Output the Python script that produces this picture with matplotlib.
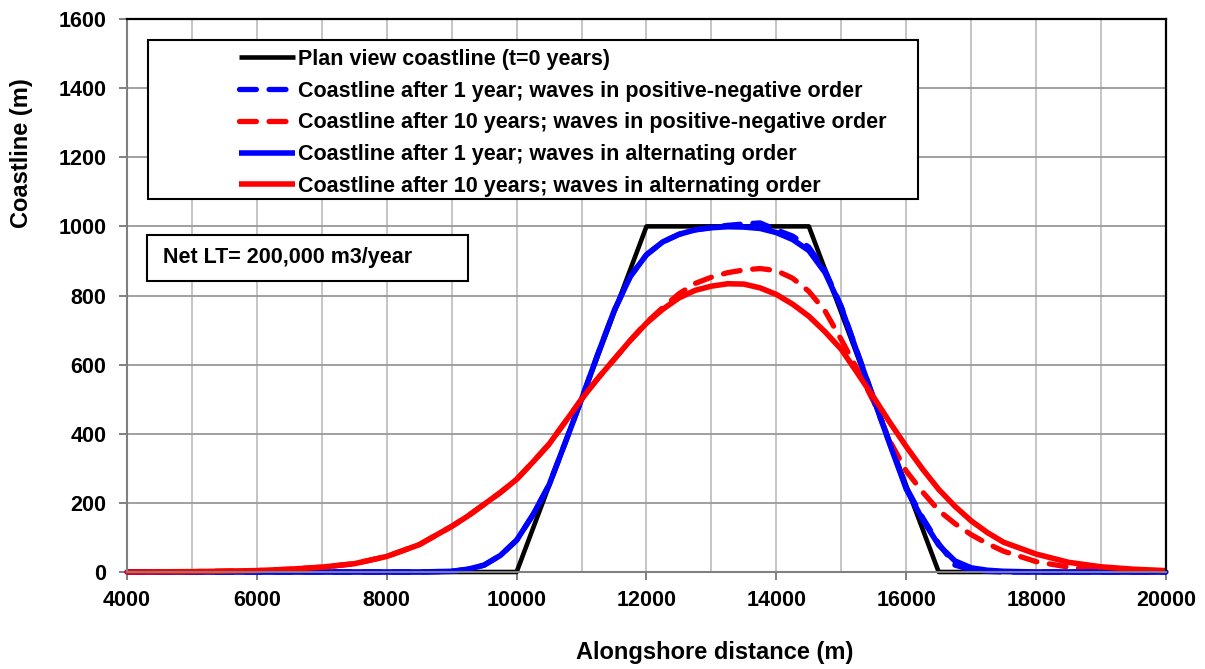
import matplotlib
matplotlib.use("Agg")
import matplotlib.pyplot as plt
from matplotlib.patches import Rectangle

plt.rcParams['font.family'] = ['Liberation Sans', 'DejaVu Sans']
plt.rcParams['font.weight'] = 'bold'

# initial plan view coastline
x_plan = [4000, 10000, 12000, 14500, 16500, 20000]
y_plan = [0, 0, 1000, 1000, 0, 0]

# alongshore positions where the modelled coastlines were read
x_model = [4000, 5000, 6000, 6500, 7000, 7500, 8000, 8500, 9000, 9250, 9500, 9750,
           10000, 10250, 10500, 10750, 11000, 11250, 11500, 11750, 12000, 12250,
           12500, 12750, 13000, 13250, 13500, 13750, 14000, 14250, 14500, 14750,
           15000, 15250, 15500, 15750, 16000, 16250, 16500, 16750, 17000, 17250,
           17500, 18000, 18500, 19000, 19500, 20000]

# 1 year, positive-negative order
y_pn_1 = [0, 0, 0, 0, 0, 0, 0, 0, 2, 8, 20, 48,
          92, 165, 252, 375, 500, 630, 755, 855, 918, 955,
          977, 990, 997, 1003, 1007, 1010, 990, 972, 940, 872,
          768, 634, 502, 370, 245, 158, 82, 20, 6, 2,
          0, 0, 0, 0, 0, 0]
# 10 years, positive-negative order
y_pn_10 = [0, 1, 4, 8, 14, 24, 45, 79, 132, 162, 196, 230,
           268, 318, 370, 435, 500, 560, 615, 670, 722, 765,
           805, 835, 853, 866, 874, 878, 872, 850, 812, 755,
           672, 585, 492, 378, 292, 232, 178, 140, 108, 82,
           60, 30, 14, 5, 1, 0]
# 1 year, alternating order
y_alt_1 = [0, 0, 0, 0, 0, 0, 0, 0, 2, 8, 20, 48,
           92, 165, 252, 375, 500, 630, 755, 855, 918, 955,
           977, 990, 996, 999, 998, 994, 982, 962, 930, 866,
           765, 632, 500, 368, 240, 152, 78, 32, 12, 5,
           2, 0, 0, 0, 0, 0]
# 10 years, alternating order
y_alt_10 = [0, 1, 4, 8, 14, 24, 45, 79, 132, 162, 196, 230,
            268, 318, 370, 435, 500, 560, 615, 670, 720, 760,
            793, 815, 827, 834, 833, 822, 803, 775, 740, 695,
            644, 575, 505, 432, 363, 298, 239, 190, 148, 114,
            86, 52, 28, 15, 8, 4]

W, H = 1205, 669
fig = plt.figure(figsize=(W / 100, H / 100), dpi=100)
ax = fig.add_axes([127 / W, 1 - 572 / H, (1166 - 127) / W, (572 - 19) / H])

dash = (0, (3.2, 2.4))
kw = dict(clip_on=False, solid_capstyle='butt', dash_capstyle='round')
ax.plot(x_plan, y_plan, color='black', lw=3.3, label='Plan view coastline (t=0 years)', **kw)
ax.plot(x_model, y_pn_1, color='#0000ff', lw=3.8, ls=dash,
        label='Coastline after 1 year; waves in positive-negative order', **kw)
ax.plot(x_model, y_pn_10, color='#ff0000', lw=3.8, ls=dash,
        label='Coastline after 10 years; waves in positive-negative order', **kw)
ax.plot(x_model, y_alt_1, color='#0000ff', lw=4.0,
        label='Coastline after 1 year; waves in alternating order', **kw)
ax.plot(x_model, y_alt_10, color='#ff0000', lw=4.0,
        label='Coastline after 10 years; waves in alternating order', **kw)

ax.set_xlim(4000, 20000)
ax.set_ylim(0, 1600)
ax.set_xticks(range(4000, 20001, 2000))
ax.set_xticks(range(4000, 20001, 1000), minor=True)
ax.set_yticks(range(0, 1601, 200))
ax.set_axisbelow(True)
ax.xaxis.grid(True, which='both', color='#c0c0c0', lw=1.3)
ax.yaxis.grid(True, color='#999999', lw=1.3)
ax.tick_params(axis='both', which='major', direction='out', length=6, width=1.4,
               color='#808080', labelsize=15.5)
ax.tick_params(axis='y', pad=9)
ax.tick_params(axis='x', pad=7)
ax.tick_params(axis='x', which='minor', length=0)

for s in ['left', 'bottom']:
    ax.spines[s].set_color('#808080')
    ax.spines[s].set_linewidth(1.5)
for s in ['top', 'right']:
    ax.spines[s].set_color('black')
    ax.spines[s].set_linewidth(1.6)

ax.set_xlabel('Alongshore distance (m)', fontsize=17, fontweight='bold')
ax.set_ylabel('Coastline (m)', fontsize=17, fontweight='bold')
ax.xaxis.set_label_coords((715 - 127) / 1039, (572 - 653) / 553)
ax.xaxis.label.set_va('center')
ax.yaxis.set_label_coords((22 - 127) / 1039, (572 - 153) / 553)
ax.yaxis.label.set_va('center')

# legend frame drawn separately (wider than its content)
ax.add_patch(Rectangle((148 / W, 1 - 199 / H), (918 - 148) / W, (199 - 40) / H,
                       transform=fig.transFigure, facecolor='white',
                       edgecolor='black', lw=1.5, zorder=4, clip_on=False))
leg = ax.legend(loc='upper left', bbox_to_anchor=(228 / W, 1 - 38 / H),
                bbox_transform=fig.transFigure, frameon=False, borderpad=0,
                handlelength=2.6, handletextpad=0.15, labelspacing=0.5,
                prop={'size': 15.5, 'weight': 'bold'})
leg.set_zorder(6)

ax.add_patch(Rectangle((147 / W, 1 - 281 / H), (468 - 147) / W, (281 - 235) / H,
                       transform=fig.transFigure, facecolor='white',
                       edgecolor='black', lw=1.5, zorder=4, clip_on=False))
ax.text(163 / W, 1 - 258 / H, 'Net LT= 200,000 m3/year', fontsize=15.5,
        fontweight='bold', va='center', ha='left', zorder=6, transform=fig.transFigure)

plt.savefig('out.png', dpi=100)
plt.close()
